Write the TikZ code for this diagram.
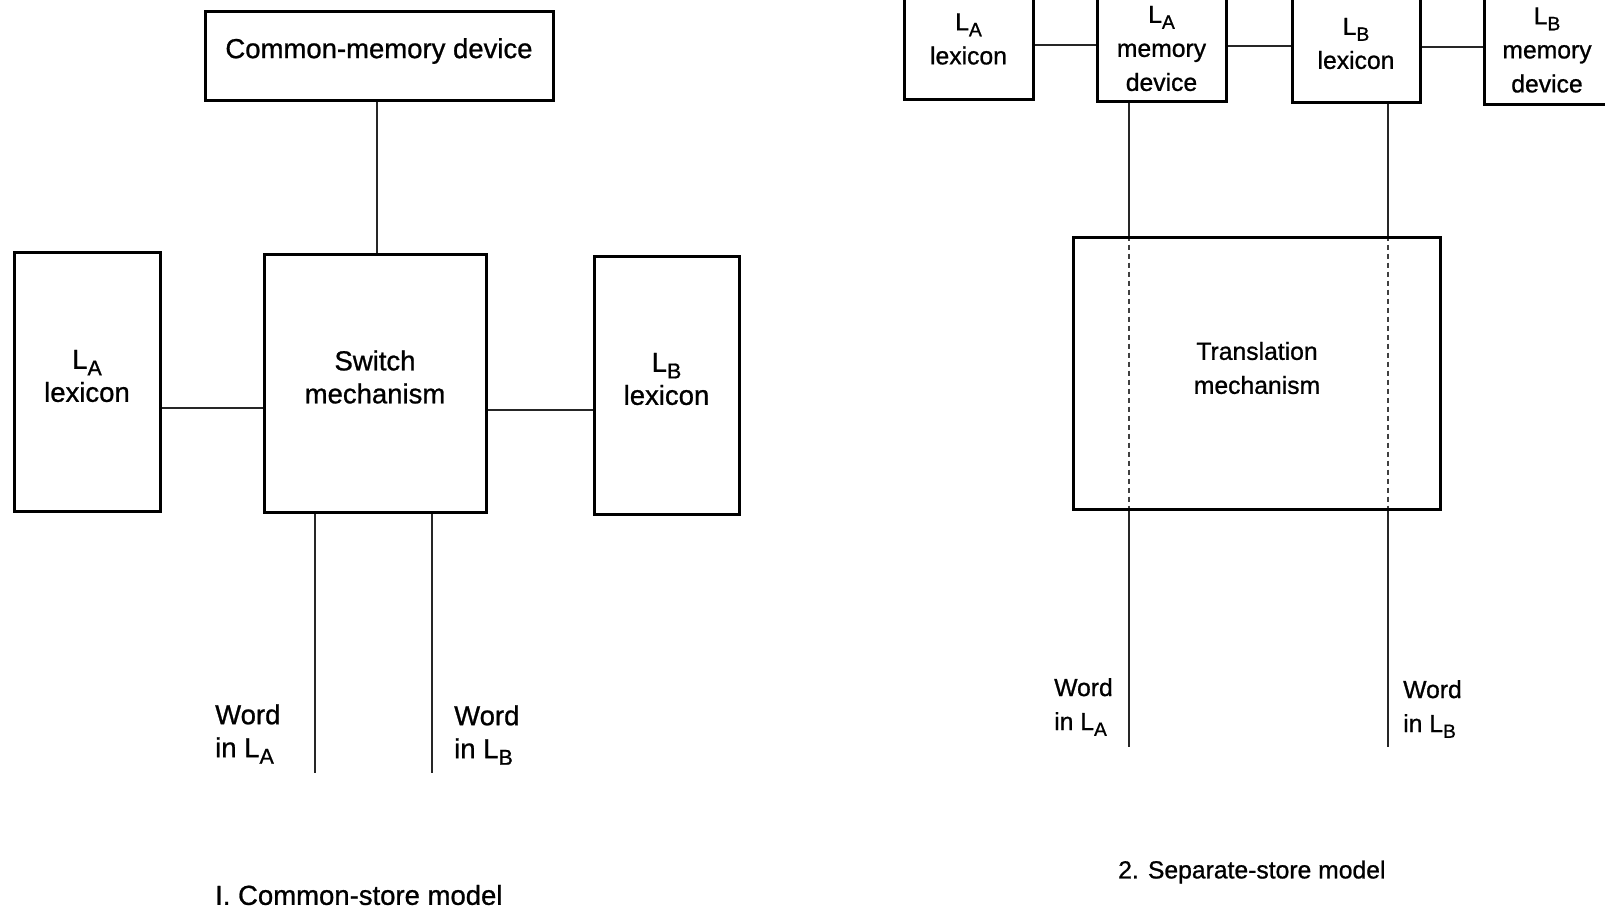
\documentclass[tikz,border=0pt]{standalone}
\usepackage{fontspec}
\setmainfont{Liberation Sans}[FakeBold=0.9]
\usetikzlibrary{calc}
\newcommand\subsc[1]{\raisebox{-0.45ex}{\scalebox{0.78}{#1}}}
\tikzset{
 box/.style={draw, line width=3pt, inner sep=0pt, align=center},
 conn/.style={line width=1.5pt, black!85},
 dsh/.style={line width=1.3pt, black!75, dash pattern=on 5pt off 4pt},
 fl/.style={font=\fontsize{27.5}{33}\selectfont},
 fr/.style={font=\fontsize{24.7}{34}\selectfont},
 lbl/.style={anchor=west, align=left, inner sep=0pt},
 txt/.style={align=center, inner sep=0pt},
}
\begin{document}
\begin{tikzpicture}[x=1pt,y=-1pt]
\useasboundingbox (0,0) rectangle (1605,911);
% ---------- left: common-store model ----------
\node[box,fl,minimum width=348pt,minimum height=89pt] (cmd) at (379,55.5) {};
\node[txt,fl] (cmdt) at (379,51) {Common-memory device};
\node[box,fl,minimum width=146pt,minimum height=259pt] (lal) at (87,381.5) {};
\node[txt,fl] (lalt) at (87,376) {L\subsc{A}\\lexicon};
\node[box,fl,minimum width=222pt,minimum height=258pt] (sw) at (375,383) {};
\node[txt,fl] (swt) at (375,377) {Switch\\mechanism};
\node[box,fl,minimum width=145pt,minimum height=258pt] (lbl) at (666.5,385) {};
\node[txt,fl] (lblt) at (666.5,379) {L\subsc{B}\\lexicon};
\draw[conn] (cmd.south -| 377,0) -- (sw.north -| 377,0);
\draw[conn] (lal.east |- 0,408) -- (sw.west |- 0,408);
\draw[conn] (sw.east |- 0,410) -- (lbl.west |- 0,410);
\coordinate (la) at (315,773);
\coordinate (lb) at (432,773);
\draw[conn] (sw.south -| la) -- (la);
\draw[conn] (sw.south -| lb) -- (lb);
\node[lbl,fl] (wla) at (215,734) {Word\\in L\subsc{A}};
\node[lbl,fl] (wlb) at (454,735) {Word\\in L\subsc{B}};
\node[lbl,fl] (cap1) at (215,895) {I. Common-store model};
% ---------- right: separate-store model ----------
\node[box,fr,minimum width=129pt,minimum height=120pt] (ral) at (968.5,39) {L\subsc{A}\\lexicon};
\node[box,fr,minimum width=129pt,minimum height=105pt] (ramd) at (1161.5,48.5) {L\subsc{A}\\memory\\device};
\node[box,fr,minimum width=128pt,minimum height=117pt] (rbl) at (1356,43.5) {L\subsc{B}\\lexicon};
\node[box,fr,minimum width=126pt,minimum height=108pt] (rbmd) at (1547,50) {L\subsc{B}\\memory\\device};
\draw[conn] (ral.east |- 0,45) -- (ramd.west |- 0,45);
\draw[conn] (ramd.east |- 0,46) -- (rbl.west |- 0,46);
\draw[conn] (rbl.east |- 0,47) -- (rbmd.west |- 0,47);
\coordinate (ra) at (1129,747);
\coordinate (rb) at (1388,747);
\node[box,fr,minimum width=367pt,minimum height=272pt] (trans) at (1256.5,373) {};
\node[txt,fr] (transt) at (1257,368) {Translation\\mechanism};
\draw[conn] (ramd.south -| ra) -- (trans.north -| ra);
\draw[dsh] (trans.north -| ra) -- (trans.south -| ra);
\draw[conn] (trans.south -| ra) -- (ra);
\draw[conn] (rbl.south -| rb) -- (trans.north -| rb);
\draw[dsh] (trans.north -| rb) -- (trans.south -| rb);
\draw[conn] (trans.south -| rb) -- (rb);
\node[box,minimum width=367pt,minimum height=272pt] (transb) at (trans) {};
\node[lbl,fr] (rwla) at (1054,707) {Word\\in L\subsc{A}};
\node[lbl,fr] (rwlb) at (1403,709) {Word\\in L\subsc{B}};
\node[lbl,fr] (cap2) at (1118,872) {2. Separate-store model};
\end{tikzpicture}
\end{document}
